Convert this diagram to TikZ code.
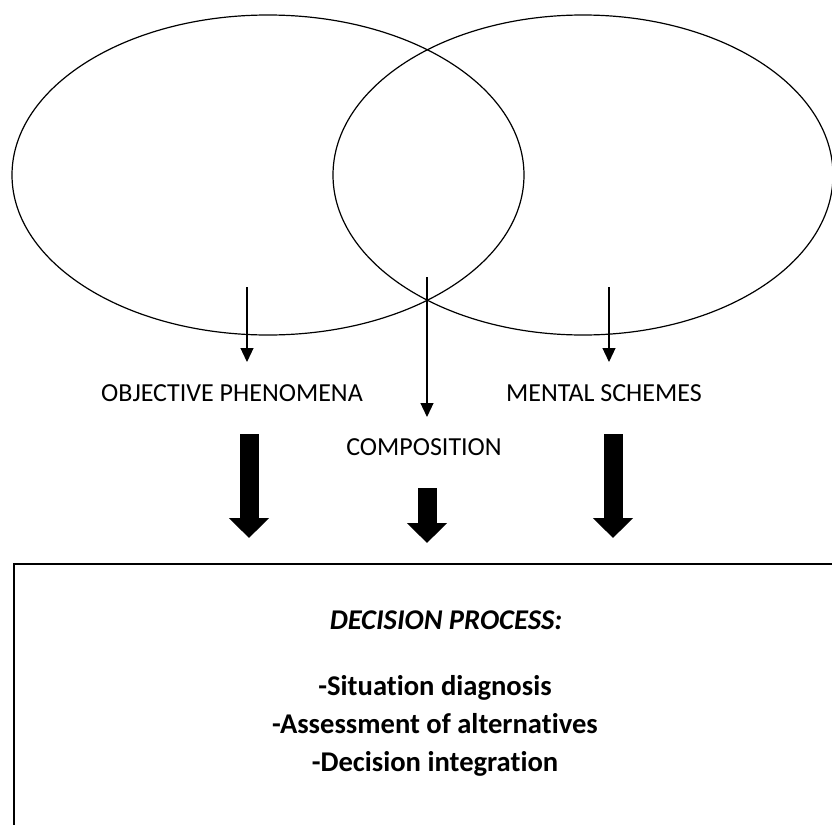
\documentclass[tikz,border=0pt]{standalone}
\usepackage{fontspec}
\setmainfont{Carlito}[Ligatures={NoCommon}]
\usetikzlibrary{arrows.meta,shapes.geometric}

\begin{document}
\begin{tikzpicture}[x=0.5pt,y=-0.5pt,
  ring/.style={draw,ellipse,line width=0.6pt,inner sep=0pt,minimum height=160pt},
  thinarrow/.style={line width=0.6pt,-{Triangle[length=7pt,width=6.5pt]}},
  fatarrow/.style={line width=9.5pt,-{Triangle[length=10pt,width=19.5pt]}},
  caps/.style={font=\fontsize{13}{15}\selectfont}]
\useasboundingbox (0,0) rectangle (832,825);
\clip (0,0) rectangle (832,825);

\node[ring,minimum width=256pt] (objective) at (268,175) {};
\node[ring,minimum width=250pt] (mental) at (583,175) {};

\coordinate (A1) at (247,287);
\coordinate (A2) at (247,362);
\coordinate (C1) at (427,277);
\coordinate (C2) at (427,417);
\coordinate (M1) at (609,287);
\coordinate (M2) at (609,362);

\draw[thinarrow] (A1) -- (A2);
\draw[thinarrow] (C1) -- (C2);
\draw[thinarrow] (M1) -- (M2);

\node[caps] (phenomena) at (232,393) {OBJECTIVE PHENOMENA};
\node[caps] (schemes) at (604,393) {MENTAL SCHEMES};
\node[caps] (composition) at (424,447) {COMPOSITION};

\coordinate (F1) at (249,434);
\coordinate (F2) at (249,538);
\coordinate (G1) at (427,488);
\coordinate (G2) at (427,543);
\coordinate (H1) at (613,434);
\coordinate (H2) at (613,538);

\draw[fatarrow] (F1) -- (F2);
\draw[fatarrow] (G1) -- (G2);
\draw[fatarrow] (H1) -- (H2);

\node[draw,line width=0.8pt,anchor=north west,inner sep=0pt,
  minimum width=440pt,minimum height=200pt] (process) at (13,563) {};

\node[font=\bfseries\itshape\fontsize{14.3}{17}\selectfont] (title) at (446,620) {DECISION PROCESS:};
\node[align=center,font=\bfseries\fontsize{14.3}{19}\selectfont] (steps) at (435,726)
  {-Situation diagnosis\\-Assessment of alternatives\\-Decision integration};

\end{tikzpicture}
\end{document}
